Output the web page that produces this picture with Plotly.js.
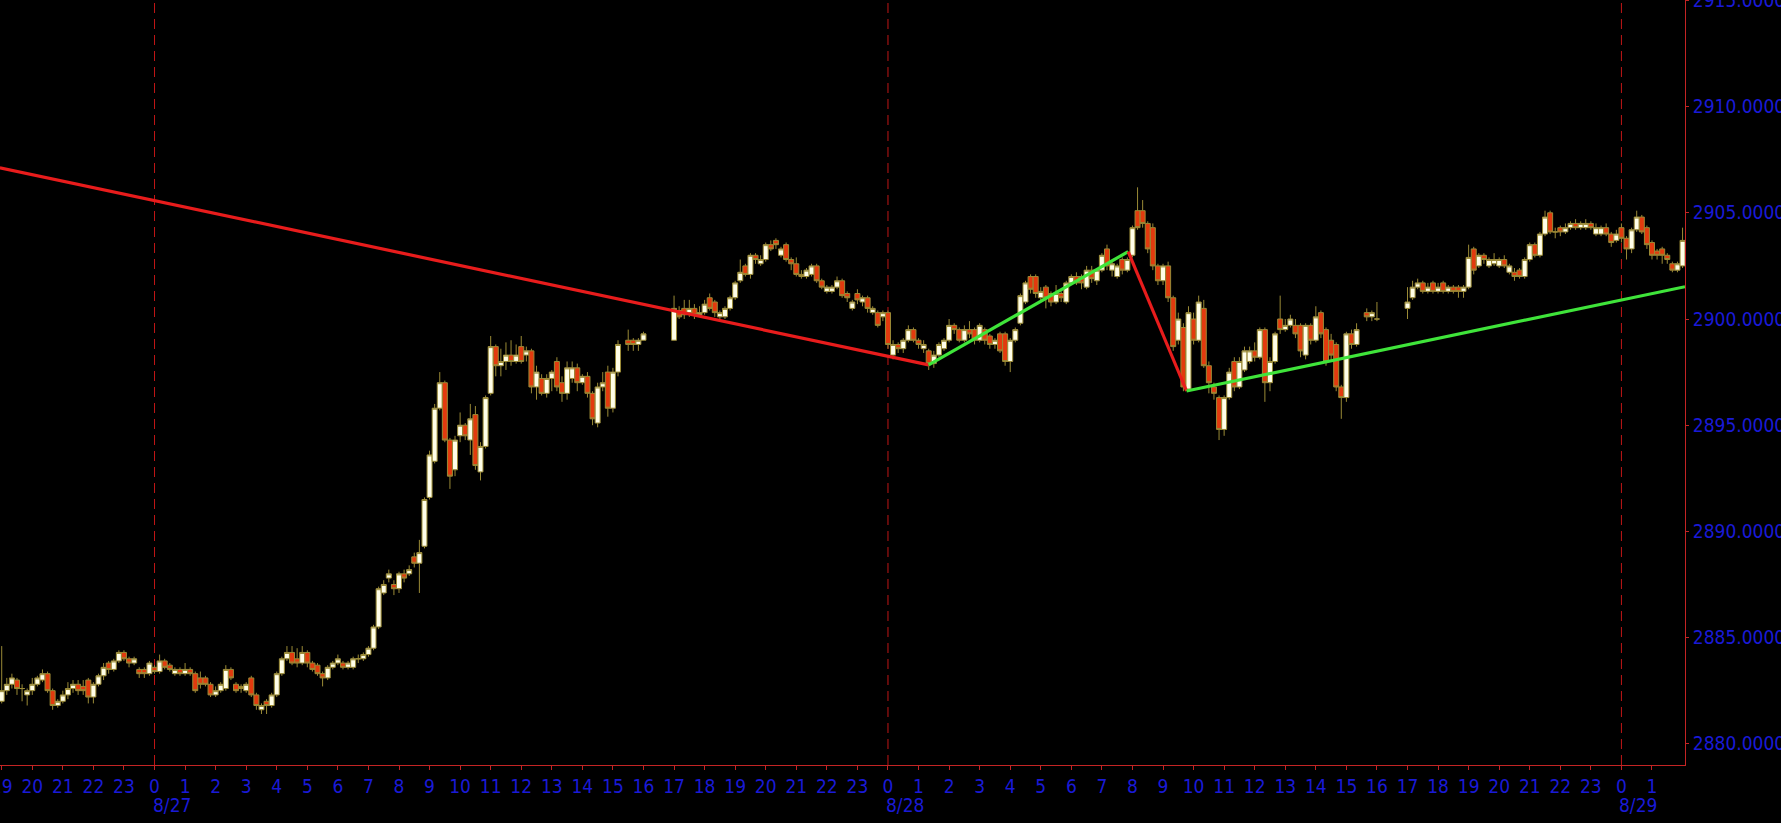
<!DOCTYPE html>
<html><head><meta charset="utf-8">
<script src="https://cdn.plot.ly/plotly-3.0.1.min.js"></script>
<style>html,body{margin:0;padding:0;background:#000;overflow:hidden}#chart{width:1781px;height:823px}</style>
</head><body><div id="chart"></div>
<script>
// bar k sits at hour firstBarHour + k / barsPerHour (hours counted from 8/27 00:00)
const firstBarHour = -5;
const barsPerHour = 6;

const opens = [
2882.0,2882.5,2882.8,2883.0,2882.6,2882.3,2882.5,2882.8,2883.0,2883.3,
2882.5,2881.8,2882.0,2882.3,2882.6,2882.8,2882.7,2883.0,2882.2,2882.8,
2883.2,2883.8,2883.5,2883.9,2884.3,2884.0,2883.8,2883.5,2883.5,2883.3,
2883.6,2883.4,2883.9,2883.7,2883.3,2883.5,2883.3,2883.5,2883.3,2883.1,
2883.1,2882.8,2882.3,2882.5,2882.6,2883.5,2882.8,2882.7,2882.5,2883.1,
2882.3,2881.6,2882.0,2881.8,2882.3,2883.3,2884.0,2884.3,2884.0,2883.8,
2884.3,2883.8,2883.7,2883.3,2883.1,2883.6,2883.8,2883.8,2883.6,2883.6,
2884.0,2884.0,2884.2,2884.5,2885.5,2887.1,2887.8,2887.5,2887.3,2888.0,
2888.0,2888.8,2888.5,2889.3,2891.6,2893.3,2895.8,2897.0,2894.3,2892.9,
2894.5,2895.0,2894.3,2895.5,2892.8,2894.0,2896.5,2898.7,2897.8,2898.0,
2898.3,2898.0,2898.7,2898.3,2898.5,2896.8,2897.2,2896.5,2897.2,2898.0,
2897.0,2896.5,2897.2,2897.7,2897.0,2897.3,2896.5,2895.1,2896.8,2897.5,
2895.8,2897.5,null,2899.0,2899.0,2898.8,2899.0,null,null,null,
null,null,2899.0,2900.4,2900.5,2900.3,2900.5,2900.2,2900.3,2901.0,
2900.8,2900.1,2900.1,2900.5,2901.0,2901.8,2902.5,2902.1,2903.0,2902.6,
2902.8,2903.5,2903.7,2903.0,2903.5,2902.8,2902.6,2902.1,2902.0,2902.1,
2902.5,2901.8,2901.3,2901.3,2901.5,2901.8,2901.2,2900.5,2901.2,2900.8,
2901.0,2900.3,2900.3,2900.1,2900.3,2898.3,2898.8,2898.6,2899.0,2899.5,
2899.0,2898.6,2898.5,2897.9,2898.3,2898.6,2899.0,2899.7,2899.5,2899.0,
2899.5,2899.5,2899.0,2899.5,2899.2,2898.8,2899.3,2899.3,2898.0,2899.0,
2899.8,2900.8,2902.0,2902.0,2901.0,2901.5,2901.2,2900.8,2901.2,2900.8,
2901.7,2902.0,2902.0,2901.5,2902.3,2901.8,2902.3,2903.3,2902.3,2902.0,
2902.8,2902.3,2903.0,2905.1,2905.1,2904.5,2904.3,2902.5,2901.8,2902.5,
2901.0,2899.0,2899.6,2896.7,2900.0,2899.0,2900.5,2897.8,2896.8,2896.3,
2894.8,2896.3,2898.0,2896.8,2897.6,2898.0,2898.5,2898.2,2899.5,2897.0,
2898.0,2900.0,2899.5,2899.7,2899.7,2899.7,2898.3,2899.7,2899.0,2900.3,
2899.5,2899.0,2898.8,2896.8,2896.3,2899.3,2898.8,null,2900.3,2900.1,
2900.0,null,null,null,null,null,2900.5,2901.0,2901.5,2901.7,
2901.3,2901.7,2901.3,2901.7,2901.3,2901.5,2901.5,2901.3,2901.5,2903.3,
2902.5,2903.0,2902.5,2902.6,2902.5,2902.8,2902.2,2902.2,2902.3,2902.0,
2902.8,2903.5,2903.0,2904.0,2905.0,2904.1,2904.3,2904.1,2904.3,2904.5,
2904.3,2904.3,2904.5,2904.0,2904.0,2904.3,2904.0,2903.7,2904.3,2903.8,
2903.3,2904.2,2904.8,2904.3,2903.6,2903.2,2903.3,2903.0,2902.6,2902.3,2902.5
];
const highs = [
2884.6,2883.1,2883.3,2883.1,2882.8,2882.6,2883.1,2883.2,2883.5,2883.4,
2882.6,2882.1,2882.5,2882.9,2883.0,2883.0,2883.0,2883.1,2882.9,2883.3,
2883.8,2883.9,2884.0,2884.4,2884.4,2884.1,2884.1,2883.6,2883.6,2883.9,
2883.7,2884.2,2884.0,2883.8,2883.6,2883.6,2883.8,2883.6,2883.4,2883.4,
2883.2,2882.9,2882.7,2882.9,2883.7,2883.6,2882.9,2882.8,2882.9,2883.2,
2882.4,2881.9,2882.1,2882.4,2883.4,2884.1,2884.6,2884.6,2884.5,2884.6,
2884.4,2883.9,2883.8,2883.4,2883.7,2883.9,2884.2,2883.9,2883.9,2884.1,
2884.2,2884.3,2884.6,2885.6,2887.4,2887.7,2888.2,2887.7,2888.1,2888.2,
2888.4,2889.0,2889.6,2891.6,2893.8,2896.0,2897.5,2897.1,2894.4,2894.5,
2895.6,2895.1,2896.0,2895.9,2894.2,2896.4,2899.2,2898.8,2898.6,2898.9,
2899.0,2898.8,2899.2,2898.7,2898.6,2897.8,2897.4,2897.4,2897.6,2898.2,
2897.3,2898.0,2898.0,2897.9,2897.4,2897.5,2896.6,2897.0,2897.5,2897.8,
2897.7,2899.0,null,2899.5,2899.1,2899.1,2899.4,null,null,null,
null,null,2901.1,2900.6,2900.9,2900.9,2900.7,2900.6,2900.9,2901.2,
2900.9,2900.4,2900.6,2901.1,2901.8,2902.8,2902.6,2903.1,2903.1,2903.0,
2903.6,2903.7,2903.8,2903.4,2903.6,2902.9,2902.9,2902.3,2902.4,2902.6,
2902.6,2901.9,2901.6,2901.6,2902.0,2901.9,2901.3,2900.9,2901.4,2901.1,
2901.1,2900.6,2900.4,2900.4,2900.4,2899.0,2898.9,2899.1,2899.7,2899.6,
2899.1,2899.0,2898.6,2898.5,2898.9,2899.1,2900.0,2899.8,2899.6,2899.7,
2899.9,2899.6,2899.8,2899.6,2899.3,2899.1,2899.4,2899.4,2899.1,2899.6,
2901.2,2901.8,2902.1,2902.1,2901.5,2901.6,2901.3,2901.6,2901.3,2901.8,
2902.1,2902.2,2902.1,2902.5,2902.5,2902.4,2903.1,2903.5,2902.7,2902.6,
2902.9,2902.9,2904.4,2906.2,2905.6,2904.6,2904.5,2902.6,2902.6,2902.7,
2901.1,2900.3,2899.8,2900.6,2900.3,2901.1,2900.9,2898.0,2897.0,2896.4,
2896.4,2897.7,2898.2,2898.2,2898.7,2898.7,2898.9,2899.6,2899.6,2898.2,
2899.4,2901.1,2900.0,2900.2,2900.0,2899.8,2899.8,2899.8,2900.6,2900.4,
2899.6,2899.3,2898.9,2896.9,2899.4,2899.5,2899.8,null,2900.5,2900.4,
2900.8,null,null,null,null,null,2901.5,2901.8,2901.9,2901.8,
2901.7,2901.8,2901.7,2901.8,2901.6,2901.6,2901.6,2901.6,2903.5,2903.4,
2903.1,2903.1,2902.9,2903.1,2902.9,2903.0,2902.6,2902.4,2902.4,2902.9,
2903.6,2903.6,2904.1,2905.1,2905.1,2904.3,2904.4,2904.5,2904.6,2904.7,
2904.6,2904.7,2904.6,2904.5,2904.4,2904.5,2904.1,2904.2,2904.5,2903.9,
2904.3,2905.1,2904.9,2904.4,2903.7,2903.3,2903.4,2903.1,2902.7,2902.7,2904.3
];
const lows = [
2881.9,2882.3,2882.6,2882.3,2882.0,2881.8,2882.3,2882.7,2882.9,2882.4,
2881.6,2881.7,2881.9,2882.1,2882.4,2882.3,2882.3,2881.9,2881.9,2882.7,
2883.0,2883.3,2883.4,2883.8,2883.9,2883.6,2883.7,2883.1,2883.1,2883.2,
2883.3,2883.3,2883.5,2883.4,2883.2,2883.2,2883.2,2883.2,2882.4,2882.6,
2882.7,2882.2,2882.2,2882.4,2882.5,2883.0,2882.4,2882.4,2882.4,2882.2,
2881.6,2881.4,2881.4,2881.7,2882.2,2883.2,2883.9,2883.7,2883.6,2883.7,
2883.6,2883.4,2883.2,2882.7,2883.0,2883.5,2883.7,2883.5,2883.5,2883.5,
2883.8,2883.9,2884.1,2884.4,2885.4,2887.0,2887.6,2887.0,2887.1,2887.6,
2887.9,2888.3,2887.1,2889.2,2891.5,2893.2,2895.7,2894.2,2892.0,2892.6,
2894.2,2894.3,2893.6,2892.9,2892.4,2893.9,2896.4,2897.3,2897.3,2897.6,
2897.8,2897.9,2897.9,2898.0,2896.5,2896.2,2896.4,2896.3,2896.6,2896.6,
2896.1,2896.2,2897.0,2896.6,2896.9,2896.3,2895.0,2894.9,2896.6,2895.4,
2895.6,2897.3,null,2898.5,2898.5,2898.5,2899.0,null,null,null,
null,null,2899.0,2900.0,2900.0,2900.1,2900.0,2900.1,2900.2,2900.4,
2900.1,2900.0,2900.0,2900.4,2900.9,2901.7,2902.0,2901.9,2902.6,2902.5,
2902.7,2903.2,2903.3,2902.9,2902.7,2902.3,2902.0,2901.9,2901.9,2902.0,
2901.7,2901.4,2901.2,2901.2,2901.4,2901.0,2900.8,2900.4,2900.7,2900.6,
2900.3,2900.2,2899.6,2899.9,2898.6,2898.1,2898.4,2898.4,2898.9,2898.9,
2898.6,2898.4,2897.6,2897.7,2898.2,2898.5,2898.9,2899.3,2898.9,2898.9,
2899.1,2898.8,2898.9,2898.8,2898.6,2898.6,2898.4,2897.8,2897.5,2898.9,
2899.7,2900.7,2901.2,2901.0,2900.8,2900.5,2900.6,2900.7,2900.8,2900.7,
2901.6,2901.6,2901.4,2901.4,2901.7,2901.6,2902.2,2902.3,2902.0,2901.9,
2902.1,2902.2,2902.9,2904.2,2904.3,2903.1,2902.3,2901.6,2901.6,2900.8,
2898.5,2898.8,2896.6,2896.6,2898.8,2898.9,2897.7,2896.5,2896.2,2894.3,
2894.5,2896.2,2896.6,2896.7,2897.5,2897.9,2898.0,2898.1,2896.1,2896.6,
2897.9,2899.3,2899.4,2899.6,2899.1,2898.2,2898.1,2898.8,2898.9,2899.1,
2897.8,2898.0,2896.6,2895.3,2896.1,2898.6,2898.7,null,2899.9,2899.9,
2899.9,null,null,null,null,null,2900.0,2900.9,2901.4,2901.2,
2901.2,2901.2,2901.2,2901.2,2901.2,2901.2,2901.0,2901.0,2901.4,2902.1,
2902.4,2902.6,2902.4,2902.5,2902.4,2902.4,2902.1,2901.8,2901.9,2901.9,
2902.7,2902.9,2902.9,2903.9,2904.0,2903.8,2903.9,2904.0,2904.2,2904.2,
2904.2,2904.2,2904.2,2903.9,2903.9,2903.9,2903.4,2903.6,2903.6,2902.8,
2903.1,2904.1,2904.0,2903.3,2902.8,2902.8,2902.6,2902.6,2902.2,2902.2,2902.4
];
const closes = [
2882.5,2882.8,2883.1,2882.6,2882.6,2882.5,2882.8,2883.1,2883.3,2882.5,
2881.8,2882.0,2882.3,2882.6,2882.8,2882.5,2882.5,2882.2,2882.8,2883.2,
2883.6,2883.5,2883.9,2884.3,2884.0,2883.8,2884.0,2883.3,2883.3,2883.8,
2883.4,2883.9,2883.6,2883.5,2883.5,2883.3,2883.5,2883.3,2882.5,2882.8,
2882.8,2882.3,2882.5,2882.8,2883.5,2883.1,2882.5,2882.6,2882.8,2882.3,
2881.8,2881.8,2881.8,2882.3,2883.3,2884.0,2884.3,2883.8,2883.8,2884.3,
2883.8,2883.5,2883.3,2883.1,2883.6,2883.8,2884.0,2883.6,2883.8,2884.0,
2884.0,2884.2,2884.5,2885.5,2887.3,2887.5,2888.0,2887.3,2888.0,2887.8,
2888.2,2888.5,2889.0,2891.5,2893.6,2895.8,2897.0,2894.3,2892.6,2894.3,
2895.0,2894.5,2895.3,2893.1,2894.0,2896.3,2898.7,2897.8,2898.0,2898.3,
2898.0,2898.3,2898.0,2898.5,2896.8,2897.5,2896.5,2897.2,2897.5,2896.8,
2896.5,2897.7,2897.7,2897.0,2897.3,2896.5,2895.3,2896.8,2897.0,2895.8,
2897.5,2898.8,null,2898.8,2898.8,2899.0,2899.3,null,null,null,
null,null,2900.5,2900.1,2900.2,2900.5,2900.2,2900.3,2900.7,2900.5,
2900.3,2900.3,2900.5,2901.0,2901.7,2902.2,2902.1,2903.0,2902.8,2902.8,
2903.5,2903.3,2903.5,2903.3,2902.8,2902.6,2902.1,2902.0,2902.3,2902.5,
2901.8,2901.5,2901.5,2901.5,2901.8,2901.1,2901.0,2900.8,2900.9,2901.0,
2900.5,2900.5,2899.7,2900.3,2898.8,2898.8,2898.6,2899.0,2899.5,2899.0,
2898.8,2898.8,2897.9,2898.3,2898.8,2899.0,2899.7,2899.5,2899.0,2899.5,
2899.3,2899.0,2899.7,2899.0,2898.8,2899.0,2898.5,2898.0,2899.0,2899.5,
2901.1,2901.7,2901.4,2901.2,2901.3,2901.0,2900.8,2901.2,2901.0,2901.7,
2902.0,2901.7,2901.7,2902.3,2901.9,2902.3,2903.0,2902.5,2902.6,2902.5,
2902.3,2902.8,2904.3,2904.3,2904.5,2903.3,2902.5,2901.8,2902.5,2901.0,
2898.7,2900.0,2896.8,2900.3,2899.0,2900.8,2897.8,2897.0,2896.5,2894.8,
2896.3,2897.5,2896.8,2898.0,2898.5,2898.5,2898.2,2899.5,2897.0,2898.0,
2899.3,2899.5,2899.7,2900.0,2899.3,2898.5,2899.7,2899.0,2900.1,2899.3,
2898.0,2898.3,2896.8,2896.3,2899.3,2898.8,2899.5,null,2900.1,2900.3,
2900.0,null,null,null,null,null,2900.8,2901.5,2901.7,2901.3,
2901.5,2901.3,2901.5,2901.3,2901.5,2901.3,2901.3,2901.5,2902.9,2902.3,
2903.0,2902.8,2902.8,2902.8,2902.8,2902.5,2902.5,2902.0,2902.0,2902.8,
2903.5,2903.0,2904.0,2904.8,2904.1,2904.1,2904.1,2904.3,2904.5,2904.3,
2904.5,2904.5,2904.3,2904.3,2904.3,2904.0,2903.6,2904.0,2903.8,2903.3,
2904.2,2904.8,2904.1,2903.5,2903.0,2903.0,2903.0,2902.8,2902.3,2902.6,2903.7
];

const hourTickValues = [-5,-4,-3,-2,-1,0,1,2,3,4,5,6,7,8,9,10,11,12,13,14,15,16,17,18,19,20,21,22,23,
  24,25,26,27,28,29,30,31,32,33,34,35,36,37,38,39,40,41,42,43,44,45,46,47,48,49];
const hourTickLabels = ['19','20','21','22','23','0','1','2','3','4','5','6','7','8','9','10','11','12','13','14','15','16','17','18','19','20','21','22','23',
  '0','1','2','3','4','5','6','7','8','9','10','11','12','13','14','15','16','17','18','19','20','21','22','23','0','1'];
const dayStartHours = [0, 24, 48];
const dayLabels = ['8/27', '8/28', '8/29'];
const priceTickValues = [2880, 2885, 2890, 2895, 2900, 2905, 2910, 2915];
const priceTickLabels = ['2880.0000','2885.0000','2890.0000','2895.0000','2900.0000','2905.0000','2910.0000','2915.0000'];

// drawn trend lines (vertices)
const trendHours  = [-5.06, 25.33, 31.86, 33.77, 50.08];
const trendPrices = [2907.12, 2897.84, 2903.17, 2896.61, 2901.52];
const trendColors = ['#e81c1c', '#3fe43a', '#e81c1c', '#3fe43a'];

const X = [], O = [], H = [], L = [], C = [];
for (let k = 0; k < opens.length; k++) {
  if (opens[k] === null) continue;
  X.push(firstBarHour + k / barsPerHour);
  O.push(opens[k]); H.push(highs[k]); L.push(lows[k]); C.push(closes[k]);
}

const OLIVE = '#9a8a36';
const traces = [];
for (let i = 0; i < trendColors.length; i++) {
  traces.push({
    type: 'scatter', mode: 'lines',
    x: [trendHours[i], trendHours[i + 1]],
    y: [trendPrices[i], trendPrices[i + 1]],
    line: { color: trendColors[i], width: 3.2 },
    hoverinfo: 'skip', showlegend: false
  });
}
traces.unshift({
  type: 'candlestick', x: X, open: O, high: H, low: L, close: C,
  increasing: { line: { color: OLIVE, width: 1 }, fillcolor: '#fffee8' },
  decreasing: { line: { color: OLIVE, width: 1 }, fillcolor: '#e23a0e' },
  whiskerwidth: 0, hoverinfo: 'skip', showlegend: false
});

const FONT = 'DejaVu Sans Condensed, DejaVu Sans, sans-serif';
const BLUE = '#1a1ad6';
const AXRED = '#c42424';

const shapes = dayStartHours.map(h => ({
  type: 'line', xref: 'x', yref: 'paper', x0: h, x1: h, y0: 0, y1: 1,
  line: { color: '#c01616', width: 1, dash: '10px,6px' }, layer: 'below'
}));
const annotations = dayStartHours.map((h, i) => ({
  xref: 'x', yref: 'paper', x: h, y: -0.052, text: dayLabels[i],
  showarrow: false, xanchor: 'left', yanchor: 'middle', xshift: -4,
  font: { family: FONT, size: 19, color: BLUE }
}));

const layout = {
  width: 1781, height: 823,
  margin: { l: 0, r: 96, t: 0, b: 58, pad: 0 },
  paper_bgcolor: '#000', plot_bgcolor: '#000',
  showlegend: false, hovermode: false,
  boxgap: 0.02, boxgroupgap: 0,
  xaxis: {
    range: [-5.056, 50.08], rangeslider: { visible: false },
    tickmode: 'array', tickvals: hourTickValues, ticktext: hourTickLabels,
    showgrid: false, zeroline: false, showline: true, linecolor: AXRED, linewidth: 1,
    ticks: 'outside', ticklen: 4, tickcolor: AXRED, tickwidth: 1,
    tickfont: { family: FONT, size: 19, color: BLUE }, tickangle: 0,
    ticklabeloverflow: 'allow'
  },
  yaxis: {
    side: 'right', range: [2879.0, 2915.02],
    tickmode: 'array', tickvals: priceTickValues, ticktext: priceTickLabels,
    showgrid: false, zeroline: false, showline: true, linecolor: AXRED, linewidth: 1,
    ticks: 'outside', ticklen: 3, tickcolor: AXRED, tickwidth: 1,
    tickfont: { family: FONT, size: 19, color: BLUE },
    ticklabeloverflow: 'allow'
  },
  shapes: shapes,
  annotations: annotations
};

Plotly.newPlot('chart', traces, layout, { staticPlot: true, displayModeBar: false });
</script>
</body></html>
